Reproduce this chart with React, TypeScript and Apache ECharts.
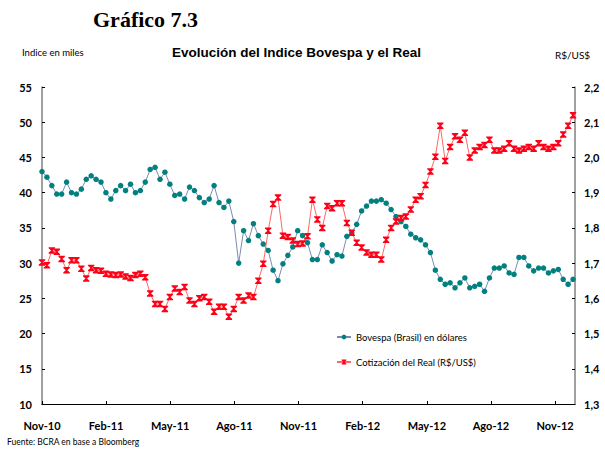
import React, { useEffect, useRef } from 'react';
import * as echarts from 'echarts';

const xLabels = ['Nov-10', 'Feb-11', 'May-11', 'Ago-11', 'Nov-11', 'Feb-12', 'May-12', 'Ago-12', 'Nov-12'];

// weekly observations starting on 1 Nov 2010
const bovespa = [
  43.0, 42.2, 41.0, 39.8, 39.8, 41.5, 40.0, 39.8, 40.5, 41.9,
  42.4, 41.9, 41.5, 40.0, 39.1, 40.3, 41.0, 40.3, 41.2, 40.0,
  40.3, 41.5, 43.3, 43.6, 41.9, 42.9, 41.2, 39.6, 39.8, 39.1,
  40.8, 40.3, 39.3, 38.6, 39.1, 41.0, 38.6, 37.9, 38.8, 35.9,
  30.0, 34.6, 33.2, 35.6, 33.9, 32.7, 31.8, 29.0, 27.5, 29.9,
  31.1, 32.3, 34.6, 33.9, 32.9, 30.5, 30.5, 32.6, 31.5, 30.3,
  31.2, 31.0, 33.8, 34.3, 35.5, 37.4, 38.1, 38.8, 38.8, 39.0,
  38.5, 37.6, 36.6, 35.9, 35.2, 34.1, 33.6, 33.3, 32.6, 31.5,
  29.0, 27.7, 27.0, 27.2, 26.5, 27.2, 27.9, 26.5, 26.7, 27.0,
  26.0, 27.9, 29.3, 29.3, 29.6, 28.6, 28.4, 30.8, 30.8, 29.6,
  28.9, 29.3, 29.3, 28.6, 28.9, 29.1, 27.7, 27.0, 27.7,
];

const real = [
  1.702, 1.694, 1.736, 1.732, 1.712, 1.68, 1.708, 1.708, 1.684, 1.656,
  1.686, 1.68, 1.678, 1.67, 1.668, 1.666, 1.668, 1.662, 1.658, 1.666,
  1.67, 1.66, 1.614, 1.584, 1.584, 1.57, 1.604, 1.628, 1.618, 1.632,
  1.594, 1.584, 1.6, 1.604, 1.59, 1.562, 1.576, 1.576, 1.548, 1.57,
  1.604, 1.594, 1.608, 1.604, 1.65, 1.698, 1.792, 1.868, 1.886, 1.778,
  1.774, 1.764, 1.754, 1.756, 1.776, 1.88, 1.824, 1.8, 1.862, 1.856,
  1.87, 1.87, 1.814, 1.786, 1.758, 1.744, 1.73, 1.724, 1.724, 1.71,
  1.766, 1.8, 1.818, 1.828, 1.832, 1.852, 1.88, 1.89, 1.922, 1.96,
  2.002, 2.09, 1.99, 2.03, 2.06, 2.05, 2.07, 2.0, 2.02, 2.03,
  2.035, 2.05, 2.02, 2.02, 2.025, 2.04, 2.025, 2.02, 2.025, 2.03,
  2.025, 2.04, 2.03, 2.025, 2.03, 2.04, 2.065, 2.09, 2.12,
];

const seriesNames = ['Bovespa (Brasil) en dólares', 'Cotización del Real (R$/US$)'];

const FONT = 'Lato';

export default function App() {
  const ref = useRef<HTMLDivElement>(null);

  useEffect(() => {
    const chart = echarts.init(ref.current!, null, { renderer: 'svg' });
    const monthsPerWeek = 7 / 30.4375;
    const bovData = bovespa.map((v, i) => [i * monthsPerWeek, v]);
    const realData = real.map((v, i) => [i * monthsPerWeek, v]);
    const starSymbol = 'path://M0,0 L10,0 L10,1.6 L6.2,5 L10,8.4 L10,10 L0,10 L0,8.4 L3.8,5 L0,1.6 Z';

    chart.setOption({
      animation: false,
      backgroundColor: '#ffffff',
      textStyle: { fontFamily: FONT },
      grid: { left: 42, right: 30, top: 87, bottom: 46, containLabel: false },
      graphic: [
        {
          type: 'text', left: 93, top: 8,
          style: { text: 'Gráfico 7.3', font: 'bold 22px "Liberation Serif", "Times New Roman", serif', fill: '#000' },
        },
        {
          type: 'text', left: 22, top: 47,
          style: { text: 'Indice en miles', font: `9.5px ${FONT}`, fill: '#000' },
        },
        {
          type: 'text', left: 172, top: 45,
          style: { text: 'Evolución del Indice Bovespa y el Real', font: 'bold 13.5px "Liberation Sans", Arial, sans-serif', fill: '#000' },
        },
        {
          type: 'text', left: 555, top: 50,
          style: { text: 'R$/US$', font: `10px ${FONT}`, fill: '#000' },
        },
        {
          type: 'text', left: 7, top: 437,
          style: { text: 'Fuente: BCRA en base a Bloomberg', font: `8.5px ${FONT}`, fill: '#000' },
        },
      ],
      legend: {
        orient: 'vertical',
        left: 331,
        top: 327,
        itemGap: 15,
        itemWidth: 14,
        itemHeight: 6,
        data: seriesNames,
        textStyle: { fontFamily: FONT, fontSize: 9.5, color: '#000' },
      },
      xAxis: {
        type: 'value',
        min: 0,
        max: 24.93,
        interval: 3,
        axisLine: { show: true, lineStyle: { color: '#000', width: 1.2 } },
        axisTick: { show: true, inside: true, length: 3, lineStyle: { color: '#000' } },
        splitLine: { show: false },
        axisLabel: {
          margin: 16,
          fontFamily: FONT,
          fontWeight: 'bold',
          fontSize: 11,
          color: '#000',
          showMaxLabel: false,
          formatter: (v: number) => {
            const idx = Math.round(v / 3);
            return Math.abs(v - idx * 3) < 1e-6 ? xLabels[idx] || '' : '';
          },
        },
      },
      yAxis: [
        {
          type: 'value',
          min: 10,
          max: 55,
          interval: 5,
          position: 'left',
          axisLine: { show: true, lineStyle: { color: '#808080', width: 1.5 } },
          axisTick: { show: true, inside: true, length: 3, lineStyle: { color: '#000' } },
          splitLine: { show: false },
          axisLabel: { margin: 10, fontFamily: FONT, fontWeight: 'bold', fontSize: 11, color: '#000' },
        },
        {
          type: 'value',
          min: 1.3,
          max: 2.2,
          interval: 0.1,
          position: 'right',
          axisLine: { show: true, lineStyle: { color: '#808080', width: 1.5 } },
          axisTick: { show: true, inside: true, length: 3, lineStyle: { color: '#000' } },
          splitLine: { show: false },
          axisLabel: {
            margin: 9, fontFamily: FONT, fontWeight: 'bold', fontSize: 11, color: '#000',
            formatter: (v: number) => v.toFixed(1).replace('.', ','),
          },
        },
      ],
      series: [
        {
          name: seriesNames[0],
          type: 'line',
          yAxisIndex: 0,
          data: bovData,
          symbol: 'circle',
          symbolSize: 5.5,
          showAllSymbol: true,
          lineStyle: { color: '#7b8bb0', width: 1 },
          itemStyle: { color: '#00807f' },
          emphasis: { disabled: true },
          z: 2,
        },
        {
          name: seriesNames[1],
          type: 'line',
          yAxisIndex: 1,
          data: realData,
          symbol: starSymbol,
          symbolSize: 6.5,
          showAllSymbol: true,
          lineStyle: { color: '#ff6666', width: 1 },
          itemStyle: { color: '#ff0018' },
          emphasis: { disabled: true },
          z: 3,
        },
      ],
    });

    return () => chart.dispose();
  }, []);

  return (
    <div
      ref={ref}
      style={{ position: 'fixed', left: 0, top: 0, width: 605, height: 450, background: '#fff' }}
    />
  );
}
